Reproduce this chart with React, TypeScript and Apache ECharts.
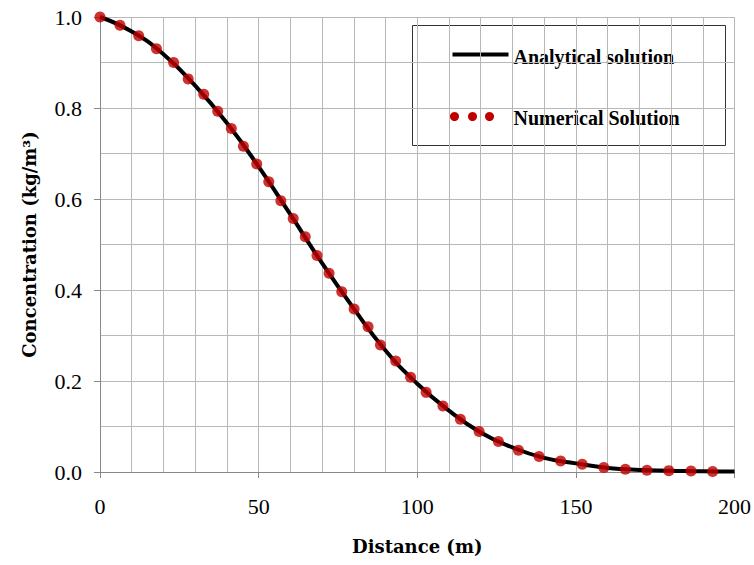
import React, { useEffect, useRef } from "react";
import * as echarts from "echarts";

const numericalX = [0, 6.3, 12.2, 17.8, 23.2, 27.8, 32.7, 37.1, 41.4, 45.2, 49.4, 53.2, 57.0, 60.9, 64.7, 68.4, 72.2, 76.2, 80.1, 84.5, 88.4, 93.2, 97.9, 102.8, 108.1, 113.6, 119.5, 125.6, 131.9, 138.4, 145.2, 152.0, 158.8, 165.6, 172.4, 179.3, 186.3, 193.1];
const numericalY = [1.0, 0.982, 0.959, 0.93, 0.9, 0.864, 0.83, 0.793, 0.755, 0.716, 0.677, 0.638, 0.596, 0.557, 0.517, 0.476, 0.437, 0.396, 0.358, 0.319, 0.279, 0.244, 0.208, 0.175, 0.145, 0.116, 0.089, 0.067, 0.048, 0.034, 0.024, 0.017, 0.01, 0.006, 0.004, 0.003, 0.002, 0.001];

const analyticalX = [0, 10, 20, 30, 40, 50, 60, 70, 80, 90, 100, 110, 120, 130, 140, 150, 160, 170, 180, 190, 200];
const analyticalY = [1.0, 0.968, 0.918, 0.849, 0.767, 0.671, 0.566, 0.459, 0.359, 0.267, 0.194, 0.135, 0.087, 0.054, 0.031, 0.019, 0.009, 0.0045, 0.003, 0.0015, 0.001];

const seriesNames = ["Analytical solution", "Numerical Solution"];
const xAxisName = "Distance (m)";
const yAxisName = "Concentration (kg/m³)";

const FONT = "'Liberation Serif', 'DejaVu Serif', serif";
const NAME_FONT = "'DejaVu Serif', 'Liberation Serif', serif";

export default function App() {
  const ref = useRef<HTMLDivElement>(null);
  useEffect(() => {
    if (!ref.current) return;
    const chart = echarts.init(ref.current, null, { renderer: "svg" });
    const gridColor = "#b8b8b8";
    chart.setOption({
      animation: false,
      backgroundColor: "#ffffff",
      grid: { left: 100, right: 17, top: 17, bottom: 93 },
      xAxis: {
        type: "value",
        min: 0,
        max: 200,
        interval: 50,
        name: xAxisName,
        nameLocation: "middle",
        nameGap: 65,
        nameTextStyle: { fontFamily: NAME_FONT, fontSize: 18, fontWeight: "bold", color: "#000" },
        axisLine: { show: true, lineStyle: { color: "#888", width: 1 } },
        axisTick: { show: true, inside: false, length: 6, lineStyle: { color: "#888" } },
        axisLabel: { fontFamily: FONT, fontSize: 22, color: "#000", margin: 23 },
        splitLine: { show: true, lineStyle: { color: gridColor, width: 1 } },
        minorTick: { show: false, splitNumber: 5 },
        minorSplitLine: { show: true, lineStyle: { color: gridColor, width: 1 } },
      },
      yAxis: {
        type: "value",
        min: 0,
        max: 1,
        interval: 0.2,
        name: yAxisName,
        nameLocation: "middle",
        nameGap: 62,
        nameTextStyle: { fontFamily: NAME_FONT, fontSize: 18, fontWeight: "bold", color: "#000" },
        axisLine: { show: true, lineStyle: { color: "#888", width: 1 } },
        axisTick: { show: true, inside: false, length: 6, lineStyle: { color: "#888" } },
        axisLabel: {
          fontFamily: FONT,
          fontSize: 22,
          color: "#000",
          margin: 18,
          formatter: (v: number) => v.toFixed(1),
        },
        splitLine: { show: true, lineStyle: { color: gridColor, width: 1 } },
        minorTick: { show: false, splitNumber: 2 },
        minorSplitLine: { show: true, lineStyle: { color: gridColor, width: 1 } },
      },
      series: [
        {
          name: seriesNames[0],
          type: "line",
          smooth: true,
          showSymbol: false,
          symbol: "none",
          lineStyle: { color: "#000", width: 4 },
          data: analyticalX.map((x, i) => [x, analyticalY[i]]),
          z: 2,
        },
        {
          name: seriesNames[1],
          type: "scatter",
          symbol: "circle",
          symbolSize: 11,
          itemStyle: { color: "#c00000" },
          data: numericalX.map((x, i) => [x, numericalY[i]]),
          z: 3,
        },
      ],
      graphic: [
        {
          type: "group",
          left: 412,
          top: 25,
          children: [
            {
              type: "rect",
              shape: { x: 0, y: 0, width: 313, height: 120 },
              style: { fill: "#fff", stroke: "#333", lineWidth: 1 },
            },
            {
              type: "line",
              shape: { x1: 40, y1: 29, x2: 96, y2: 29 },
              style: { stroke: "#000", lineWidth: 4 },
            },
            {
              type: "text",
              x: 101,
              y: 31,
              style: {
                text: seriesNames[0],
                fontFamily: FONT,
                fontSize: 20,
                fontWeight: "bold",
                fill: "#000",
                verticalAlign: "middle",
              },
            },
            { type: "circle", shape: { cx: 42, cy: 91, r: 4.5 }, style: { fill: "#c00000" } },
            { type: "circle", shape: { cx: 60, cy: 91, r: 4.5 }, style: { fill: "#c00000" } },
            { type: "circle", shape: { cx: 77, cy: 91, r: 4.5 }, style: { fill: "#c00000" } },
            {
              type: "text",
              x: 101,
              y: 92,
              style: {
                text: seriesNames[1],
                fontFamily: FONT,
                fontSize: 20,
                fontWeight: "bold",
                fill: "#000",
                verticalAlign: "middle",
              },
            },
          ],
        },
      ],
    });
    return () => chart.dispose();
  }, []);
  return <div ref={ref} style={{ width: 754, height: 565, position: "absolute", left: 0, top: 0 }} />;
}
